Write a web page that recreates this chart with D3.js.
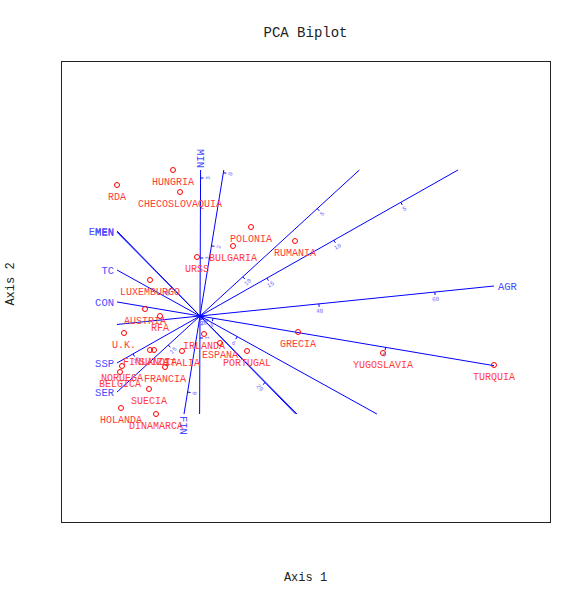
<!DOCTYPE html>
<html><head><meta charset="utf-8">
<script src="https://cdn.jsdelivr.net/npm/d3@7"></script>
<style>body{margin:0;background:#fff}</style>
</head><body>
<svg id="c" width="581" height="599"></svg>
<script>
// ---- data ----
const countries = ["RDA","HUNGRIA","CHECOSLOVAQUIA","POLONIA","BULGARIA","RUMANIA","URSS","LUXEMBURGO","AUSTRIA","RFA","U.K.","FINLANDIA","SUIZA","ITALIA","IRLANDA","ESPANA","PORTUGAL","GRECIA","YUGOSLAVIA","TURQUIA","FRANCIA","NORUEGA","BELGICA","SUECIA","HOLANDA","DINAMARCA"];
const scoreX = [-1.66,-0.54,-0.40,1.02,0.66,1.90,-0.06,-1.00,-1.10,-0.80,-1.52,-1.00,-0.92,-0.36,0.08,0.40,0.94,1.96,3.66,5.88,-0.70,-1.56,-1.60,-1.02,-1.58,-0.88];
const scoreY = [2.62,2.92,2.48,1.78,1.40,1.50,1.18,0.72,0.14,0.00,-0.34,-0.68,-0.68,-0.70,-0.36,-0.54,-0.70,-0.32,-0.74,-0.98,-1.02,-1.00,-1.12,-1.46,-1.84,-1.96];

const variables = ["MIN","FIN","EMEN","MEN","TC","CON","AGR","SSP","SER"];
const loadX = [0.004,-0.163,-0.976,-0.99,-1,-1,1,-1,-1];
const loadY = [1,-1,1,1,0.554,0.169,0.102,-0.566,-0.916];
const varOrigin = [1.275,3.92,27.0,0.9,6.5,8.15,19.5,20,12.87];
const varPerUnit = [0.625,1.35,3.76,0.125,0.588,0.571,8.58,3.25,2.475];
const varTicks = [[1,2,3],[0,2,4,6],[20,30],[1],[6],[6,8],[20,40,60],[5,10,15,20,25],[5,10,15]];

const title = "PCA Biplot", xTitle = "Axis 1", yTitle = "Axis 2";

// ---- drawing ----
const svg = d3.select("#c");
const font = "'Liberation Mono','Courier New',monospace";
const L = 61, R = 550, T = 61, B = 522;
const x = d3.scaleLinear().domain([-2.78, 7.0]).range([L, R]);
const y = d3.scaleLinear().domain([-4.12, 5.1]).range([B, T]);

svg.append("rect").attr("width",581).attr("height",599).attr("fill","#fff");
svg.append("rect").attr("x",L+0.5).attr("y",T+0.5).attr("width",R-L).attr("height",B-T)
  .attr("fill","none").attr("stroke","#222").attr("stroke-width",1);

svg.append("text").attr("x",(L+R)/2).attr("y",37).attr("text-anchor","middle")
  .attr("font-family",font).attr("font-size",14).attr("fill","#222").text(title);
svg.append("text").attr("x",(L+R)/2).attr("y",581).attr("text-anchor","middle")
  .attr("font-family",font).attr("font-size",12).attr("fill","#222").text(xTitle);
svg.append("text").attr("transform","translate(14,284) rotate(-90)").attr("text-anchor","middle")
  .attr("font-family",font).attr("font-size",12).attr("fill","#222").text(yTitle);

const [xmin,xmax] = d3.extent(scoreX), [ymin,ymax] = d3.extent(scoreY);
const gV = svg.append("g");
variables.forEach((name,i)=>{
  const n = Math.hypot(loadX[i],loadY[i]);
  const ux = loadX[i]/n, uy = loadY[i]/n;
  let tPos = Infinity, tNeg = -Infinity, side = null;
  const cand = [];
  if (ux>1e-9){ cand.push([xmax/ux,"right"]); tNeg=Math.max(tNeg,xmin/ux);}
  if (ux<-1e-9){ cand.push([xmin/ux,"left"]); tNeg=Math.max(tNeg,xmax/ux);}
  if (uy>1e-9){ cand.push([ymax/uy,"top"]); tNeg=Math.max(tNeg,ymin/uy);}
  if (uy<-1e-9){ cand.push([ymin/uy,"bottom"]); tNeg=Math.max(tNeg,ymax/uy);}
  cand.forEach(c=>{ if(c[0]<tPos){tPos=c[0]; side=c[1];} });
  const P = t => [x(t*ux), y(t*uy)];
  const a = P(tNeg), b = P(tPos);
  gV.append("line").attr("x1",a[0]).attr("y1",a[1]).attr("x2",b[0]).attr("y2",b[1])
    .attr("stroke","#0000ff").attr("stroke-width",1);
  // screen direction
  let sx = b[0]-a[0], sy = b[1]-a[1]; const sn = Math.hypot(sx,sy); sx/=sn; sy/=sn;
  if (sx < -1e-6 || (Math.abs(sx)<1e-6 && sy>0)) { sx=-sx; sy=-sy; }
  const nx = -sy, ny = sx;
  const ang = Math.atan2(sy,sx)*180/Math.PI;
  const cal = d3.scaleLinear().domain([varOrigin[i], varOrigin[i]+varPerUnit[i]]).range([0,1]);
  varTicks[i].forEach(v=>{
    const t = cal(v);
    if (t < tNeg-0.03 || t > tPos+0.03) return;
    const p = P(t);
    gV.append("line").attr("x1",p[0]).attr("y1",p[1]).attr("x2",p[0]+nx*3).attr("y2",p[1]+ny*3)
      .attr("stroke","#0000ff").attr("stroke-width",1);
    gV.append("text").attr("transform",`translate(${p[0]+nx*7},${p[1]+ny*7}) rotate(${ang})`)
      .attr("text-anchor","middle").attr("dy","0.35em")
      .attr("font-family",font).attr("font-size",6).attr("fill","#6a6aff").text(v);
  });
  const lab = gV.append("text").attr("font-family",font).attr("font-size",10.5).attr("fill","#4a4aff").text(name);
  if (side==="left") lab.attr("x",b[0]-3).attr("y",b[1]).attr("dy","0.35em").attr("text-anchor","end");
  else if (side==="right") lab.attr("x",b[0]+4).attr("y",b[1]).attr("dy","0.35em").attr("text-anchor","start");
  else if (side==="top") lab.attr("transform",`translate(${b[0]},${b[1]-2}) rotate(90)`).attr("dy","0.35em").attr("text-anchor","end");
  else lab.attr("transform",`translate(${b[0]},${b[1]+2}) rotate(90)`).attr("dy","0.35em").attr("text-anchor","start");
});

const gP = svg.append("g");
countries.forEach((c,i)=>{
  const px = x(scoreX[i]), py = y(scoreY[i]);
  gP.append("circle").attr("cx",px).attr("cy",py).attr("r",2.5)
    .attr("fill","none").attr("stroke","#ff0000").attr("stroke-width",1);
  gP.append("text").attr("x",px).attr("y",py+14.5).attr("text-anchor","middle")
    .attr("font-family",font).attr("font-size",10).attr("fill","#ff3c3c").text(c);
});
</script>
</body></html>
